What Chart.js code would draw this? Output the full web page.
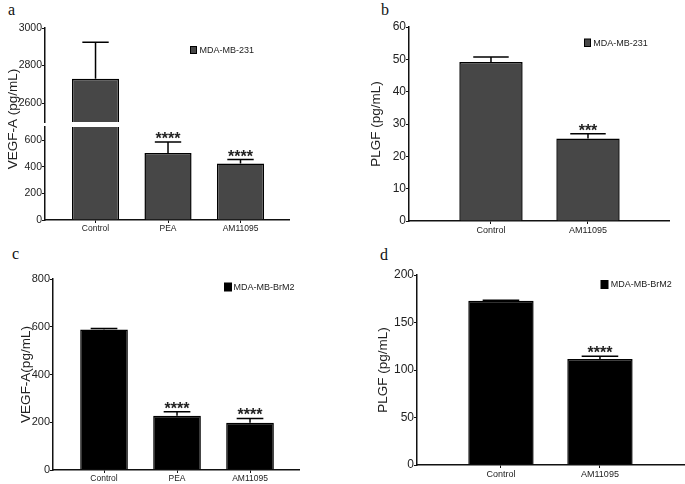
<!DOCTYPE html>
<html><head><meta charset="utf-8">
<script src="https://cdn.jsdelivr.net/npm/chart.js@4.4.0/dist/chart.umd.min.js"></script>
<style>
html,body{margin:0;padding:0;background:#fff;}
#fig{position:relative;width:685px;height:484px;overflow:hidden;background:#fff;}
canvas{position:absolute;}
.lbl{position:absolute;font-family:"Liberation Serif","Times New Roman",serif;font-size:16px;line-height:16px;color:#111;}
</style></head><body>
<div id="fig">
  <div class="lbl" style="left:8px;top:2px">a</div>
  <div class="lbl" style="left:381px;top:2px">b</div>
  <div class="lbl" style="left:12px;top:246px">c</div>
  <div class="lbl" style="left:380px;top:247px">d</div>
  <canvas id="cA2" width="300" height="244" style="left:0;top:0;z-index:1"></canvas>
  <canvas id="cA1" width="300" height="134" style="left:0;top:0;z-index:2"></canvas>
  <canvas id="cB" width="345" height="240" style="left:340px;top:0"></canvas>
  <canvas id="cC" width="340" height="240" style="left:0;top:244px"></canvas>
  <canvas id="cD" width="345" height="240" style="left:340px;top:244px"></canvas>
</div>
<script>
// ---- data ----
const groups3 = ['Control', 'PEA', 'AM11095'];
const groups2 = ['Control', 'AM11095'];

const vegf231 = [2730, 504, 425];
const vegf231Err = [194, 83, 30];
const vegf231Sig = ['', '****', '****'];

const plgf231 = [49.2, 25.5];
const plgf231Err = [1.5, 1.5];
const plgf231Sig = ['', '***'];

const vegfBrM2 = [588, 227, 198];
const vegfBrM2Err = [5, 17, 18];
const vegfBrM2Sig = ['', '****', '****'];

const plgfBrM2 = [173, 111.5];
const plgfBrM2Err = [0.3, 3];
const plgfBrM2Sig = ['', '****'];

const yTicksAUpper = [2600, 2800, 3000];
const yTicksALower = [0, 200, 400, 600];
const yTicksB = [0, 10, 20, 30, 40, 50, 60];
const yTicksC = [0, 200, 400, 600, 800];
const yTicksD = [0, 50, 100, 150, 200];

const line231 = 'MDA-MB-231';
const lineBrM2 = 'MDA-MB-BrM2';
// ---------------

const FONT = '"Liberation Sans", Arial, sans-serif';
const AXIS = '#111';

const errSig = {
  id: 'errSig',
  afterDatasetsDraw(chart) {
    const ctx = chart.ctx, a = chart.chartArea, ys = chart.scales.y;
    ctx.save();
    ctx.beginPath();
    ctx.rect(a.left, a.top, a.right - a.left, a.bottom - a.top);
    ctx.clip();
    chart.data.datasets.forEach((ds, di) => {
      const meta = chart.getDatasetMeta(di);
      meta.data.forEach((bar, i) => {
        const v = ds.data[i].y, e = ds.errors[i];
        const x = bar.x, w = bar.width;
        const y0 = ys.getPixelForValue(v), y1 = ys.getPixelForValue(v + e);
        ctx.strokeStyle = '#000';
        ctx.lineWidth = 1.5;
        ctx.beginPath();
        ctx.moveTo(x, y0); ctx.lineTo(x, y1);
        ctx.moveTo(x - w * 0.28, y1); ctx.lineTo(x + w * 0.28, y1);
        ctx.stroke();
        if (ds.sig[i]) {
          ctx.font = 'bold 16px ' + FONT;
          ctx.textAlign = 'center';
          ctx.textBaseline = 'alphabetic';
          ctx.fillStyle = '#222';
          ctx.fillText(ds.sig[i], x, y1 + 2);
        }
      });
    });
    ctx.restore();
  }
};

const boxLegend = {
  id: 'boxLegend',
  afterDraw(chart, args, o) {
    if (!o || !o.show) return;
    const ctx = chart.ctx, ds = chart.data.datasets[0];
    ctx.save();
    ctx.fillStyle = ds.backgroundColor;
    ctx.fillRect(o.x, o.y, o.w, o.h);
    ctx.strokeStyle = '#000'; ctx.lineWidth = 1;
    ctx.strokeRect(o.x, o.y, o.w, o.h);
    ctx.font = '9px ' + FONT;
    ctx.fillStyle = '#222';
    ctx.textAlign = 'left';
    ctx.textBaseline = 'middle';
    ctx.fillText(ds.label, o.tx, o.y + o.h / 2 + 0.5);
    ctx.restore();
  }
};

const sideTitle = {
  id: 'sideTitle',
  afterDraw(chart, args, o) {
    if (!o || !o.text) return;
    const ctx = chart.ctx;
    ctx.save();
    ctx.translate(o.x, o.y);
    ctx.rotate(-Math.PI / 2);
    ctx.font = o.size + 'px ' + FONT;
    ctx.fillStyle = '#222';
    ctx.textAlign = 'center';
    ctx.textBaseline = 'middle';
    ctx.fillText(o.text, 0, 0);
    ctx.restore();
  }
};

function makeChart(id, cfg) {
  const cats = cfg.cats;
  const xScale = {
    type: 'linear', min: cfg.xmin, max: cfg.xmax, offset: false,
    display: cfg.showX !== false,
    afterBuildTicks: s => { s.ticks = cats.map((c, i) => ({ value: i })); },
    afterFit: s => { s.height = cfg.xh; },
    border: { display: true, color: AXIS, width: 1.5 },
    grid: { offset: false, drawOnChartArea: false, drawTicks: true, tickLength: 3, color: AXIS, lineWidth: 1 },
    ticks: { callback: v => cats[v], padding: 1, maxRotation: 0, autoSkip: false,
             color: '#222', font: { family: FONT, size: cfg.xfs } }
  };
  const yScale = {
    type: 'linear', min: cfg.ymin, max: cfg.ymax,
    afterBuildTicks: s => { s.ticks = cfg.yticks.map(v => ({ value: v })); },
    afterFit: s => { s.width = cfg.yw; },
    border: { display: true, color: AXIS, width: 1.5 },
    grid: { drawOnChartArea: false, drawTicks: true, tickLength: 3, color: AXIS, lineWidth: 1 },
    ticks: { padding: 0, color: '#222', font: { family: FONT, size: cfg.yfs }, callback: v => String(v) },
    title: cfg.ytitle ? { display: true, text: cfg.ytitle, color: '#222',
      font: { family: FONT, size: 13.5 }, padding: { top: cfg.tpad, bottom: 0 } } : { display: false }
  };
  return new Chart(document.getElementById(id), {
    type: 'bar',
    data: {
      datasets: [{
        label: cfg.label,
        data: cfg.values.map((v, i) => ({ x: i, y: v })),
        errors: cfg.errors, sig: cfg.sig,
        backgroundColor: cfg.color, borderColor: '#000', borderWidth: 1.5,
        barPercentage: cfg.barPct, categoryPercentage: 1
      }]
    },
    options: {
      responsive: false, animation: false, devicePixelRatio: 1,
      layout: { autoPadding: false, padding: { top: cfg.pt, right: cfg.pr, bottom: cfg.pb || 0, left: 0 } },
      scales: { x: xScale, y: yScale },
      plugins: {
        legend: { display: false }, tooltip: { enabled: false },
        boxLegend: cfg.legend || { show: false },
        sideTitle: cfg.side || {}
      }
    },
    plugins: [errSig, boxLegend, sideTitle]
  });
}

// Panel a, upper segment (broken axis)
makeChart('cA1', {
  cats: groups3, values: vegf231, errors: vegf231Err, sig: vegf231Sig, label: line231,
  color: '#474747', xmin: -0.697, xmax: 2.669, showX: false, xh: 0, xfs: 8.5,
  ymin: 2500, ymax: 3000, yticks: yTicksAUpper, yw: 45, yfs: 10.5,
  pt: 28, pr: 11, pb: 12, barPct: 0.65,
  legend: { show: true, x: 190.5, y: 46.5, w: 6, h: 7, tx: 199.5 }
});
// Panel a, lower segment
makeChart('cA2', {
  cats: groups3, values: vegf231, errors: vegf231Err, sig: vegf231Sig, label: line231,
  color: '#474747', xmin: -0.697, xmax: 2.669, xh: 24, xfs: 8.5,
  ymin: 0, ymax: 700, yticks: yTicksALower, yw: 45, yfs: 10.5,
  pt: 127, pr: 11, barPct: 0.65,
  side: { text: 'VEGF-A (pg/mL)', x: 13, y: 119, size: 13.5 }
});
// Panel b
makeChart('cB', {
  cats: groups2, values: plgf231, errors: plgf231Err, sig: plgf231Sig, label: line231,
  color: '#474747', xmin: -0.845, xmax: 1.835, xh: 19, xfs: 9,
  ymin: 0, ymax: 60, yticks: yTicksB, yw: 69, yfs: 12,
  pt: 27, pr: 16, barPct: 0.653, ytitle: 'PLGF (pg/mL)', tpad: 28.6,
  legend: { show: true, x: 244.5, y: 39, w: 6, h: 7.5, tx: 253.3 }
});
// Panel c
makeChart('cC', {
  cats: groups3, values: vegfBrM2, errors: vegfBrM2Err, sig: vegfBrM2Sig, label: lineBrM2,
  color: '#000', xmin: -0.699, xmax: 2.671, xh: 14, xfs: 8.5,
  ymin: 0, ymax: 800, yticks: yTicksC, yw: 53, yfs: 11,
  pt: 35, pr: 41, barPct: 0.653, ytitle: 'VEGF-A(pg/mL)', tpad: 18.6,
  legend: { show: true, x: 224.5, y: 39, w: 7, h: 8, tx: 233.5 }
});
// Panel d
makeChart('cD', {
  cats: groups2, values: plgfBrM2, errors: plgfBrM2Err, sig: plgfBrM2Sig, label: lineBrM2,
  color: '#000', xmin: -0.848, xmax: 1.859, xh: 19, xfs: 9,
  ymin: 0, ymax: 200, yticks: yTicksD, yw: 77, yfs: 12,
  pt: 31, pr: 0, barPct: 0.66, ytitle: 'PLGF (pg/mL)', tpad: 35.2,
  legend: { show: true, x: 261, y: 36.5, w: 7, h: 8, tx: 270.7 }
});
</script>
</body></html>
